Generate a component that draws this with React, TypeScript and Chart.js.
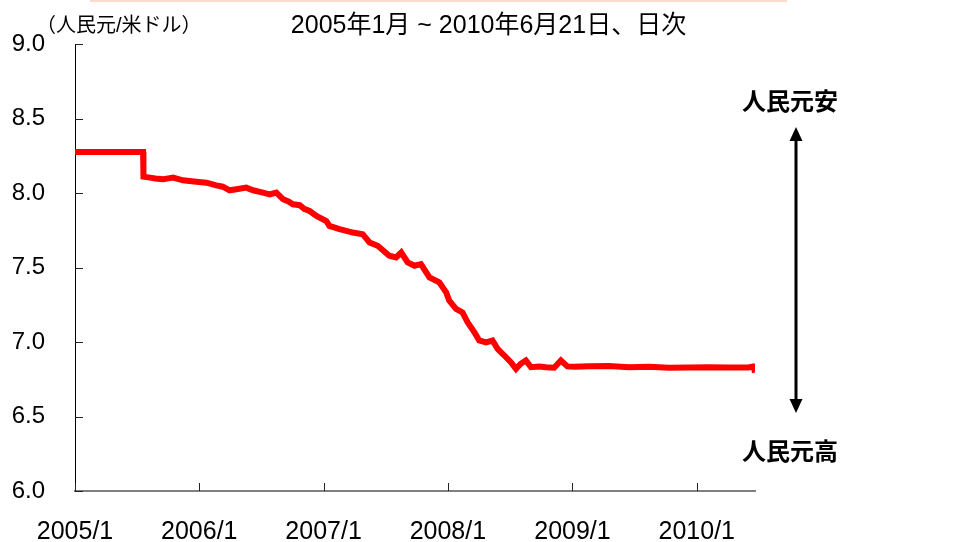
import React, { useEffect, useRef } from "react";
import { Chart, registerables } from "chart.js";

Chart.register(...registerables);

// ---- data ----
const dates: string[] = [
  "2005-01-01", "2005-07-20", "2005-07-21", "2005-08-09", "2005-08-25", "2005-09-17", "2005-10-02",
  "2005-10-16", "2005-11-14", "2005-12-23", "2006-01-22", "2006-02-20", "2006-03-11", "2006-03-31",
  "2006-04-20", "2006-05-19", "2006-06-08", "2006-07-07", "2006-07-27", "2006-08-15",
  "2006-09-04", "2006-09-20", "2006-10-03", "2006-10-23", "2006-11-05", "2006-11-21", "2006-12-11", "2007-01-09",
  "2007-01-18", "2007-02-17", "2007-03-28", "2007-04-26", "2007-05-16", "2007-06-09",
  "2007-07-13", "2007-08-02", "2007-08-17", "2007-09-05", "2007-09-25", "2007-10-14",
  "2007-11-08", "2007-12-07", "2007-12-17", "2007-12-27", "2008-01-05", "2008-01-25",
  "2008-02-13", "2008-02-28", "2008-03-19", "2008-04-02", "2008-04-22", "2008-05-11",
  "2008-05-26", "2008-06-15", "2008-07-04", "2008-07-19", "2008-08-02", "2008-08-17",
  "2008-09-01", "2008-09-25", "2008-10-15", "2008-11-08", "2008-11-28", "2008-12-17",
  "2009-01-06", "2009-02-19", "2009-04-18", "2009-06-16", "2009-08-14", "2009-10-11",
  "2009-12-09", "2010-02-05", "2010-04-05", "2010-06-02", "2010-06-15", "2010-06-18",
  "2010-06-21",
];
const rates: number[] = [
  8.2765, 8.2765, 8.111, 8.105, 8.099, 8.094, 8.1,
  8.105, 8.087, 8.078, 8.071, 8.053, 8.044, 8.02,
  8.027, 8.038, 8.02, 8.004, 7.993, 8.004,
  7.96, 7.945, 7.926, 7.92, 7.895, 7.881, 7.848, 7.814,
  7.781, 7.759, 7.736, 7.725, 7.67, 7.647,
  7.58, 7.569, 7.602, 7.535, 7.513, 7.524,
  7.435, 7.401, 7.368, 7.334, 7.279, 7.223,
  7.2, 7.133, 7.066, 7.011, 6.999, 7.011,
  6.955, 6.91, 6.865, 6.821, 6.855, 6.877,
  6.832, 6.837, 6.832, 6.828, 6.877, 6.837,
  6.835, 6.838, 6.84, 6.832, 6.835, 6.828,
  6.829, 6.831, 6.83, 6.83, 6.836, 6.827,
  6.796,
];
const yTickValues: number[] = [6.0, 6.5, 7.0, 7.5, 8.0, 8.5, 9.0];
const xTickDates: string[] = ["2005-01-01", "2006-01-01", "2007-01-01", "2008-01-01", "2009-01-01", "2010-01-01"];
const xTickLabels: string[] = ["2005/1", "2006/1", "2007/1", "2008/1", "2009/1", "2010/1"];
const startDate = "2005-01-01";
const endDate = "2010-06-21";

const titleText = "2005年1月 ~ 2010年6月21日、日次";
const unitText = "（人民元/米ドル）";
const upText = "人民元安";
const downText = "人民元高";

function dayIndex(s: string): number {
  const [y, m, d] = s.split("-").map(Number);
  const [y0, m0, d0] = startDate.split("-").map(Number);
  return (Date.UTC(y, m - 1, d) - Date.UTC(y0, m0 - 1, d0)) / 86400000;
}

const LATIN = '"Liberation Sans", Arial, "Noto Sans CJK JP", sans-serif';
const CJK = '"Liberation Sans", "Noto Sans CJK JP", sans-serif';

const inwardTicks = {
  id: "inwardTicks",
  afterDraw(chart: any) {
    const { ctx, chartArea } = chart;
    const xs = chart.scales.x;
    const ys = chart.scales.y;
    ctx.save();
    ctx.strokeStyle = "#222";
    ctx.lineWidth = 1;
    ys.ticks.forEach((t: any) => {
      const py = Math.round(ys.getPixelForValue(t.value)) + 0.5;
      ctx.beginPath();
      ctx.moveTo(chartArea.left, py);
      ctx.lineTo(chartArea.left + 8, py);
      ctx.stroke();
    });
    xs.ticks.forEach((t: any) => {
      const px = Math.round(xs.getPixelForValue(t.value)) + 0.5;
      ctx.beginPath();
      ctx.moveTo(px, chartArea.bottom);
      ctx.lineTo(px, chartArea.bottom - 8);
      ctx.stroke();
    });
    ctx.restore();
  },
};

export default function App() {
  const canvasRef = useRef<HTMLCanvasElement | null>(null);

  useEffect(() => {
    document.body.style.margin = "0";
    const canvas = canvasRef.current;
    if (!canvas) return;
    const points = dates.map((d, i) => ({ x: dayIndex(d), y: rates[i] }));
    const chart = new Chart(canvas, {
      type: "line",
      data: {
        datasets: [
          {
            data: points,
            borderColor: "#FF0000",
            backgroundColor: "#FF0000",
            borderWidth: 6,
            pointRadius: 0,
            tension: 0,
            fill: false,
          },
        ],
      },
      options: {
        animation: false,
        responsive: false,
        devicePixelRatio: 1,
        parsing: false,
        layout: { padding: { top: 43, right: 202, left: 0, bottom: 0 } },
        plugins: {
          legend: { display: false },
          tooltip: { enabled: false },
          title: { display: false },
        },
        scales: {
          x: {
            type: "linear",
            min: dayIndex(startDate),
            max: dayIndex(endDate),
            grid: { display: false, drawTicks: false },
            border: { display: true, color: "#808080", width: 2 },
            afterBuildTicks: (scale: any) => {
              scale.ticks = xTickDates.map((d) => ({ value: dayIndex(d) }));
            },
            afterFit: (scale: any) => {
              scale.height = 51;
            },
            ticks: {
              autoSkip: false,
              maxRotation: 0,
              minRotation: 0,
              padding: 26,
              color: "#000",
              font: { family: LATIN, size: 25 },
              callback: (_v: any, i: number) => xTickLabels[i],
            },
          },
          y: {
            type: "linear",
            min: 6,
            max: 9,
            grid: { display: false, drawTicks: false },
            border: { display: true, color: "#000", width: 1 },
            afterBuildTicks: (scale: any) => {
              scale.ticks = yTickValues.map((v) => ({ value: v }));
            },
            afterFit: (scale: any) => {
              scale.width = 75;
            },
            ticks: {
              padding: 30,
              color: "#000",
              font: { family: LATIN, size: 24 },
              callback: (v: any) => Number(v).toFixed(1),
            },
          },
        },
      },
      plugins: [inwardTicks],
    });
    return () => chart.destroy();
  }, []);

  return (
    <div style={{ position: "fixed", left: 0, top: 0, width: 957, height: 542, background: "#fff", overflow: "hidden" }}>
      <div style={{ position: "absolute", left: 90, top: 0, width: 697, height: 2, background: "#FBDCCB" }} />
      <canvas ref={canvasRef} width={957} height={542} style={{ position: "absolute", left: 0, top: 0, width: 957, height: 542 }} />
      <div
        style={{
          position: "absolute", left: 0, width: 977, top: 9, textAlign: "center",
          fontFamily: CJK, fontSize: 25, lineHeight: "30px", color: "#000", whiteSpace: "nowrap",
        }}
      >
        {titleText}
      </div>
      <div
        style={{
          position: "absolute", left: 36, top: 12, fontFamily: CJK, fontSize: 20,
          lineHeight: "26px", color: "#000", whiteSpace: "nowrap",
        }}
      >
        {unitText}
      </div>
      <div
        style={{
          position: "absolute", left: 740, width: 100, top: 85, textAlign: "center",
          fontFamily: '"Noto Sans CJK JP", sans-serif', fontWeight: 700, fontSize: 24,
          lineHeight: "30px", color: "#000", whiteSpace: "nowrap",
        }}
      >
        {upText}
      </div>
      <div
        style={{
          position: "absolute", left: 740, width: 100, top: 435, textAlign: "center",
          fontFamily: '"Noto Sans CJK JP", sans-serif', fontWeight: 700, fontSize: 24,
          lineHeight: "30px", color: "#000", whiteSpace: "nowrap",
        }}
      >
        {downText}
      </div>
      <svg style={{ position: "absolute", left: 0, top: 0 }} width={957} height={542}>
        <line x1={796} y1={138} x2={796} y2={402} stroke="#000" strokeWidth={3} />
        <polygon points="796,127 789.5,141 802.5,141" fill="#000" />
        <polygon points="796,413 789.5,399 802.5,399" fill="#000" />
      </svg>
    </div>
  );
}
